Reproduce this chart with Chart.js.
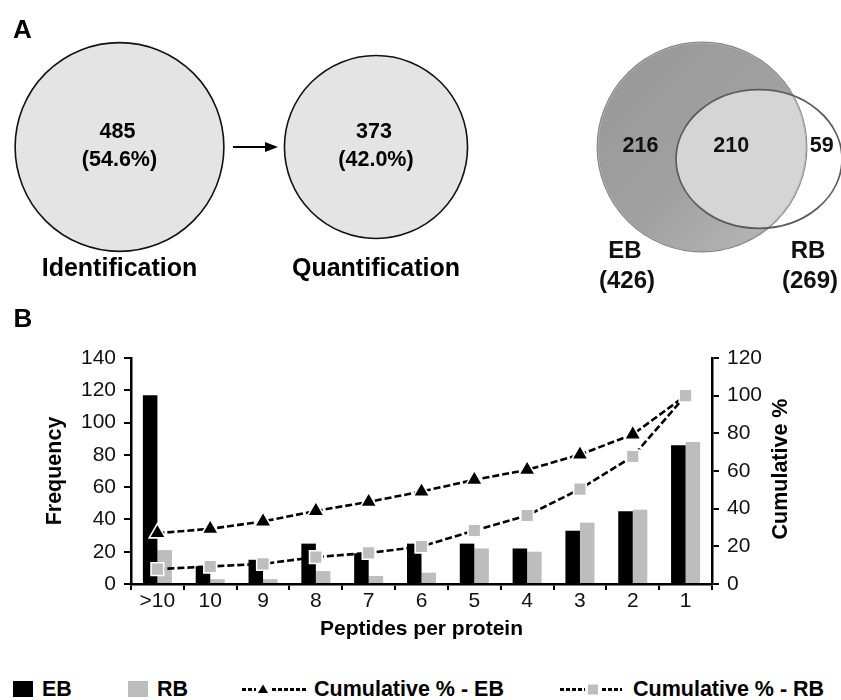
<!DOCTYPE html>
<html>
<head>
<meta charset="utf-8">
<script src="https://cdn.jsdelivr.net/npm/chart.js@4.4.1/dist/chart.umd.min.js"></script>
<style>
  html, body { margin: 0; padding: 0; background: #fff; }
  #wrap { position: relative; width: 841px; height: 700px; overflow: hidden;
          font-family: "Liberation Sans", Arial, sans-serif; color: #000; }
  #panelA { position: absolute; left: 0; top: 0; }
  #panelB { position: absolute; left: 0; top: 300px; }
  .leg { position: absolute; top: 678px; height: 22px; line-height: 22px;
         font-weight: bold; font-size: 21.5px; white-space: nowrap; }
  .sw { position: absolute; top: 681px; width: 20px; height: 16px; }
  .sym { position: absolute; top: 678px; }
</style>
</head>
<body>
<div id="wrap">
  <canvas id="panelA" width="841" height="300"></canvas>
  <canvas id="panelB" width="841" height="360"></canvas>

  <div class="sw" style="left:13px;background:#000;"></div>
  <div class="leg" style="left:42px;">EB</div>
  <div class="sw" style="left:128px;background:#bdbdbd;"></div>
  <div class="leg" style="left:157px;">RB</div>
  <svg class="sym" style="left:242px;" width="66" height="22">
    <line x1="0" y1="11.5" x2="66" y2="11.5" stroke="#000" stroke-width="2.8" stroke-dasharray="4,2"/>
    <rect x="14" y="3" width="14" height="16" fill="#fff"/>
    <polygon points="21,6.5 26,15 16,15" fill="#000"/>
  </svg>
  <div class="leg" style="left:314px;">Cumulative % - EB</div>
  <svg class="sym" style="left:560px;" width="62" height="22">
    <line x1="0" y1="11.5" x2="62" y2="11.5" stroke="#000" stroke-width="2.8" stroke-dasharray="4,2"/>
    <rect x="25" y="3" width="16" height="16" fill="#fff"/>
    <rect x="28" y="6.5" width="10" height="10" fill="#bdbdbd"/>
  </svg>
  <div class="leg" style="left:633px;">Cumulative % - RB</div>
</div>

<script>
// ---- Panel A: identification / quantification and EB-RB overlap ----
const funnelSteps = ['Identification', 'Quantification'];
const funnelCounts = [485, 373];
const funnelShares = [54.6, 42.0];

const vennSets = ['EB', 'RB'];
const vennSetTotals = [426, 269];
const vennRegionCounts = [216, 210, 59];   // EB only, both, RB only

// ---- Panel B: peptides per protein ----
const peptideBins = ['>10', '10', '9', '8', '7', '6', '5', '4', '3', '2', '1'];
const ebFrequency = [117, 11, 15, 25, 19, 25, 25, 22, 33, 45, 86];
const rbFrequency = [21, 3, 3, 8, 5, 7, 22, 20, 38, 46, 88];
const ebCumulative = [27.0, 29.3, 33.2, 38.8, 43.6, 49.1, 55.3, 60.6, 68.7, 79.4, 100];
const rbCumulative = [7.9, 9.3, 10.7, 14.3, 16.5, 19.9, 28.4, 36.4, 50.4, 67.7, 100];
const frequencyTicks = [0, 20, 40, 60, 80, 100, 120, 140];
const cumulativeTicks = [0, 20, 40, 60, 80, 100, 120];

const FONT = '"Liberation Sans", Arial, sans-serif';

// Panel A layout (canvas units = pixels through a 1:1 linear scale)
const funnelCentersX = [119.5, 376];
const funnelCenterY = 147;
const funnelRadiusPerSqrt = 4.74;
const vennEB = { x: 702, y: 147 };
const vennRB = { x: 759, y: 159 };
const vennRadiusPerSqrt = 5.06;
const vennRBSquash = 0.835;
const vennRegionLabelX = [640.5, 731.3, 821.8];
const vennRegionLabelY = 146;
const vennSetLabelX = [625, 808];

const panelAPainter = {
  id: 'panelAPainter',
  afterDraw(chart) {
    const { ctx } = chart;
    const sx = v => chart.scales.x.getPixelForValue(v);
    const sy = v => chart.scales.y.getPixelForValue(v);
    const unit = sx(1) - sx(0);
    ctx.save();
    ctx.textAlign = 'center';
    ctx.textBaseline = 'middle';
    ctx.fillStyle = '#000';

    ctx.font = 'bold 26px ' + FONT;
    ctx.fillText('A', sx(22.5), sy(31));

    // funnel circles, area proportional to the protein count
    funnelCounts.forEach((n, i) => {
      const r = funnelRadiusPerSqrt * Math.sqrt(n) * unit;
      ctx.beginPath();
      ctx.arc(sx(funnelCentersX[i]), sy(funnelCenterY), r, 0, Math.PI * 2);
      ctx.fillStyle = '#e4e4e4';
      ctx.fill();
      ctx.lineWidth = 1.6;
      ctx.strokeStyle = '#111';
      ctx.stroke();
      ctx.fillStyle = '#000';
      ctx.font = 'bold 21.5px ' + FONT;
      ctx.fillText(String(n), sx(funnelCentersX[i] - 2), sy(funnelCenterY - 15));
      ctx.fillText('(' + funnelShares[i].toFixed(1) + '%)', sx(funnelCentersX[i]), sy(funnelCenterY + 13));
      ctx.font = 'bold 25px ' + FONT;
      ctx.fillText(funnelSteps[i], sx(funnelCentersX[i]), sy(269));
    });

    // arrow between the two circles
    const ay = sy(funnelCenterY);
    ctx.beginPath();
    ctx.moveTo(sx(233), ay);
    ctx.lineTo(sx(267), ay);
    ctx.lineWidth = 2;
    ctx.strokeStyle = '#000';
    ctx.stroke();
    ctx.beginPath();
    ctx.moveTo(sx(278), ay);
    ctx.lineTo(sx(265), ay - 5);
    ctx.lineTo(sx(265), ay + 5);
    ctx.closePath();
    ctx.fill();

    // Venn diagram
    const rEB = vennRadiusPerSqrt * Math.sqrt(vennSetTotals[0]) * unit;
    const rxRB = vennRadiusPerSqrt * Math.sqrt(vennSetTotals[1]) * unit;
    const ryRB = rxRB * vennRBSquash;
    const ex = sx(vennEB.x), ey = sy(vennEB.y);
    const rx = sx(vennRB.x), ry = sy(vennRB.y);

    const grad = ctx.createLinearGradient(ex - rEB, ey - rEB, ex + rEB, ey + rEB);
    grad.addColorStop(0, '#979797');
    grad.addColorStop(0.55, '#a1a1a1');
    grad.addColorStop(1, '#bdbdbd');
    ctx.beginPath();
    ctx.arc(ex, ey, rEB, 0, Math.PI * 2);
    ctx.fillStyle = grad;
    ctx.fill();
    ctx.lineWidth = 2;
    ctx.strokeStyle = '#808080';
    ctx.stroke();

    ctx.save();
    ctx.beginPath();
    ctx.arc(ex, ey, rEB, 0, Math.PI * 2);
    ctx.clip();
    ctx.beginPath();
    ctx.ellipse(rx, ry, rxRB, ryRB, 0, 0, Math.PI * 2);
    ctx.fillStyle = '#d5d5d5';
    ctx.fill();
    ctx.beginPath();
    ctx.arc(ex, ey, rEB, 0, Math.PI * 2);
    ctx.lineWidth = 2;
    ctx.strokeStyle = '#b4b4b4';
    ctx.stroke();
    ctx.restore();

    ctx.beginPath();
    ctx.ellipse(rx, ry, rxRB, ryRB, 0, 0, Math.PI * 2);
    ctx.lineWidth = 1.7;
    ctx.strokeStyle = '#5c5c5c';
    ctx.stroke();

    ctx.fillStyle = '#111';
    ctx.font = 'bold 21.5px ' + FONT;
    vennRegionCounts.forEach((n, i) => {
      ctx.fillText(String(n), sx(vennRegionLabelX[i]), sy(vennRegionLabelY));
    });
    ctx.font = 'bold 24px ' + FONT;
    vennSets.forEach((name, i) => {
      ctx.fillText(name, sx(vennSetLabelX[i]), sy(251));
      ctx.fillText('(' + vennSetTotals[i] + ')', sx(vennSetLabelX[i] + 2), sy(281));
    });
    ctx.restore();
  }
};

new Chart(document.getElementById('panelA'), {
  type: 'scatter',
  data: { datasets: [{ data: [] }] },
  options: {
    responsive: false,
    animation: false,
    layout: { padding: 0 },
    plugins: { legend: { display: false }, tooltip: { enabled: false } },
    scales: {
      x: { type: 'linear', min: 0, max: 841, display: false },
      y: { type: 'linear', min: 0, max: 300, reverse: true, display: false }
    }
  },
  plugins: [panelAPainter]
});

// Panel B: bars on the frequency axis, cumulative lines on the right axis
const rightTitle = {
  id: 'rightTitle',
  afterDraw(chart) {
    const s = chart.scales.y1;
    const { ctx } = chart;
    ctx.save();
    ctx.translate(781, (s.top + s.bottom) / 2 - 2);
    ctx.rotate(-Math.PI / 2);
    ctx.textAlign = 'center';
    ctx.textBaseline = 'middle';
    ctx.fillStyle = '#000';
    ctx.font = 'bold 21.5px ' + FONT;
    ctx.fillText('Cumulative %', 0, 0);
    ctx.restore();
  }
};

const panelBLabel = {
  id: 'panelBLabel',
  afterDraw(chart) {
    const { ctx } = chart;
    ctx.save();
    ctx.fillStyle = '#000';
    ctx.font = 'bold 26px ' + FONT;
    ctx.textAlign = 'center';
    ctx.textBaseline = 'middle';
    ctx.fillText('B', 23, 20);
    ctx.restore();
  }
};

// where both cumulative curves meet, the EB triangle sits hidden under the RB square
const ebMarkerRadius = c =>
  ebCumulative[c.dataIndex] === rbCumulative[c.dataIndex] ? 5.5 : 9.5;

new Chart(document.getElementById('panelB'), {
  data: {
    labels: peptideBins,
    datasets: [
      {
        type: 'line', label: 'Cumulative % - RB', data: rbCumulative, yAxisID: 'y1', order: 0,
        borderColor: '#000', borderWidth: 2.6, borderDash: [7, 3], tension: 0, fill: false,
        pointStyle: 'rect', pointRadius: 9, pointBackgroundColor: '#bdbdbd',
        pointBorderColor: '#fff', pointBorderWidth: 1.6
      },
      {
        type: 'line', label: 'Cumulative % - EB', data: ebCumulative, yAxisID: 'y1', order: 1,
        borderColor: '#000', borderWidth: 2.6, borderDash: [7, 3], tension: 0, fill: false,
        pointStyle: 'triangle', pointRadius: ebMarkerRadius, pointBackgroundColor: '#000',
        pointBorderColor: '#fff', pointBorderWidth: 1.6
      },
      {
        type: 'bar', label: 'EB', data: ebFrequency, yAxisID: 'y', order: 2,
        backgroundColor: '#000', borderWidth: 0,
        categoryPercentage: 0.55, barPercentage: 1.0
      },
      {
        type: 'bar', label: 'RB', data: rbFrequency, yAxisID: 'y', order: 3,
        backgroundColor: '#bdbdbd', borderWidth: 0,
        categoryPercentage: 0.55, barPercentage: 1.0
      }
    ]
  },
  options: {
    responsive: false,
    animation: false,
    layout: { padding: { top: 58, left: 0, right: 0, bottom: 0 } },
    plugins: { legend: { display: false }, tooltip: { enabled: false } },
    scales: {
      x: {
        type: 'category',
        offset: true,
        afterFit(s) { s.height = 76; },
        grid: { offset: true, drawOnChartArea: false, drawTicks: true, tickLength: 6,
                color: '#000', lineWidth: 2 },
        border: { display: true, color: '#000', width: 2.5 },
        ticks: { color: '#111', padding: 1, maxRotation: 0,
                 font: { family: FONT, size: 21, lineHeight: 1 } },
        title: { display: true, text: 'Peptides per protein', color: '#000',
                 font: { family: FONT, size: 21, weight: 'bold' },
                 padding: { top: 0, bottom: 18 } }
      },
      y: {
        type: 'linear', position: 'left', min: 0, max: 140,
        afterFit(s) { s.width = 131; },
        afterBuildTicks(s) { s.ticks = frequencyTicks.map(v => ({ value: v })); },
        grid: { drawOnChartArea: false, drawTicks: true, tickLength: 7, color: '#000', lineWidth: 2 },
        border: { display: true, color: '#000', width: 2.5 },
        ticks: { color: '#111', padding: 8, font: { family: FONT, size: 21 } },
        title: { display: true, text: 'Frequency', color: '#000',
                 font: { family: FONT, size: 21.5, weight: 'bold' },
                 padding: { top: 42, bottom: 0 } }
      },
      y1: {
        type: 'linear', position: 'right', min: 0, max: 120,
        afterFit(s) { s.width = 129; },
        afterBuildTicks(s) { s.ticks = cumulativeTicks.map(v => ({ value: v })); },
        grid: { drawOnChartArea: false, drawTicks: true, tickLength: 7, color: '#000', lineWidth: 2 },
        border: { display: true, color: '#000', width: 2.5 },
        ticks: { color: '#111', padding: 8, font: { family: FONT, size: 21 } }
      }
    }
  },
  plugins: [rightTitle, panelBLabel]
});
</script>
</body>
</html>
